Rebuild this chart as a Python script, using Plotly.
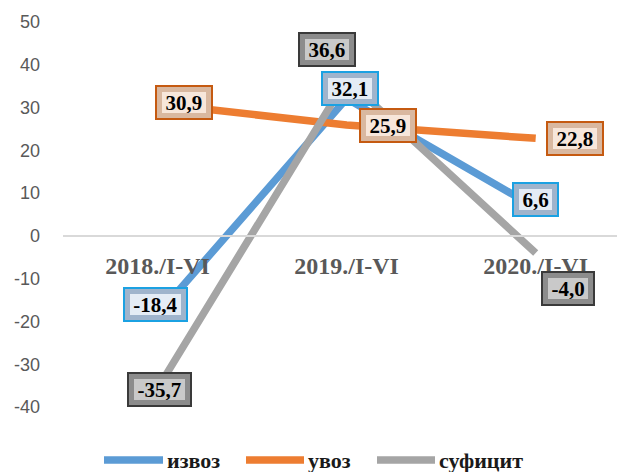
import plotly.graph_objects as go

categories = ["2018./I-VI", "2019./I-VI", "2020./I-VI"]
izvoz = [-18.4, 32.1, 6.6]
uvoz = [30.9, 25.9, 22.8]
suficit = [-35.7, 36.6, -4.0]
series_names = ["извоз", "увоз", "суфицит"]
y_ticks = [50, 40, 30, 20, 10, 0, -10, -20, -30, -40]
y_tick_labels = ["50", "40", "30", "20", "10", "0", "-10", "-20", "-30", "-40"]

colors = ["#5B9BD5", "#ED7D31", "#A5A5A5"]
label_style = [
    dict(edge="#9FB4CC", face="#E4ECF5", border="#1BA1E2"),
    dict(edge="#D9B8A0", face="#F7E6DA", border="#C55A11"),
    dict(edge="#8C8C8C", face="#C9C9C9", border="#3A3A3A"),
]
# pixel offsets of the data labels (xshift, yshift) per series / point
label_offsets = [
    [(-2, 10), (3, 10), (0, 8)],
    [(26, 1), (41, 0), (39, 0)],
    [(2, -1), (-20, 30), (32, -35)],
]

W, H = 617, 472
ML, MR, MT, MB = 63, 0, 22, 65

fig = go.Figure()
all_series = [izvoz, uvoz, suficit]
for name, vals, col in zip(series_names, all_series, colors):
    fig.add_trace(go.Scatter(x=categories, y=vals, mode="lines", name=name,
                             line=dict(color=col, width=7.5),
                             showlegend=False, hoverinfo="skip"))

def text_width(s, fs):
    w = 0
    for ch in s:
        if ch.isdigit():
            w += 0.5
        elif ch == ",":
            w += 0.25
        elif ch == "-":
            w += 0.333
        else:
            w += 0.5
    return w * fs

annotations = []
fs = 21
for si, (vals, st) in enumerate(zip(all_series, label_style)):
    for pi, v in enumerate(vals):
        txt = f"{v:.1f}".replace(".", ",")
        tw = text_width(txt, fs)
        bw = tw + 21
        bh = 35
        dx, dy = label_offsets[si][pi]
        annotations.append(dict(
            x=categories[pi], y=v, xref="x", yref="y", text=txt, showarrow=False,
            font=dict(family="Liberation Serif", size=fs, color="rgba(0,0,0,0)", weight="bold"),
            bgcolor=st["edge"], bordercolor=st["border"], borderwidth=2, borderpad=0,
            width=bw - 4, height=bh - 4, xshift=dx, yshift=dy,
        ))
        annotations.append(dict(
            x=categories[pi], y=v, xref="x", yref="y", text=txt, showarrow=False,
            font=dict(family="Liberation Serif", size=fs, color="#000000", weight="bold"),
            bgcolor=st["face"], borderwidth=0, borderpad=0,
            width=bw - 14, height=bh - 14, xshift=dx, yshift=dy,
        ))

# custom legend
plot_h = H - MT - MB
plot_w = W - ML - MR
leg_y_px = 460
leg_items = [(104, 163), (246, 304), (377, 435)]
shapes = []
for (x0, x1), col, name in zip(leg_items, colors, series_names):
    yp = (H - MB - leg_y_px) / plot_h
    shapes.append(dict(type="line", xref="paper", yref="paper",
                       x0=(x0 - ML) / plot_w, x1=(x1 - ML) / plot_w, y0=yp, y1=yp,
                       line=dict(color=col, width=7.5)))
    annotations.append(dict(x=(x1 + 2 - ML) / plot_w, y=yp, xref="paper", yref="paper",
                            xanchor="left", yanchor="middle", text=name, showarrow=False,
                            font=dict(family="Liberation Serif", size=22, color="#1a1a1a", weight="bold")))

fig.update_layout(
    width=W, height=H,
    margin=dict(l=ML, r=MR, t=MT, b=MB, pad=0, autoexpand=False),
    paper_bgcolor="white", plot_bgcolor="white",
    shapes=shapes, annotations=annotations,
    showlegend=False,
)
fig.update_xaxes(
    type="category", range=[-0.5, 2.43], anchor="free", position=40 / 90,
    showline=True, linecolor="#D9D9D9", linewidth=2, showgrid=False, zeroline=False,
    ticks="", ticklabelstandoff=8, automargin=False,
    tickfont=dict(family="Liberation Serif", size=24, color="#595959", weight="bold"),
)
fig.update_yaxes(
    range=[-40, 50], tickvals=y_ticks, ticktext=y_tick_labels,
    showgrid=False, zeroline=False, showline=False, automargin=False,
    ticks="", ticklabelstandoff=22,
    tickfont=dict(family="Liberation Sans", size=18, color="#595959"),
)

fig.write_html("out.html", config={"displayModeBar": False},
               post_script="document.body.style.margin='0';")
